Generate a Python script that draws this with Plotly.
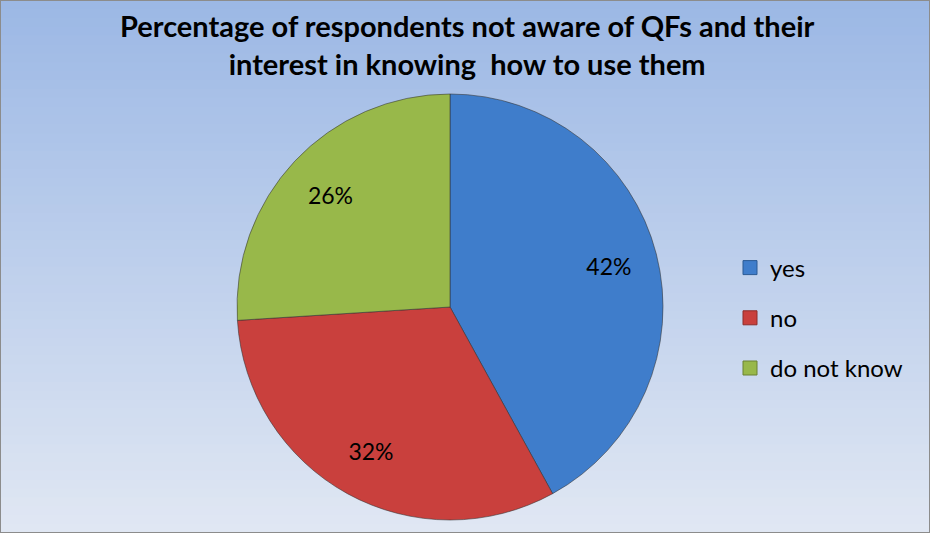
import plotly.graph_objects as go

categories = ["yes", "no", "do not know"]
values = [42, 32, 26]
colors = ["#3F7DCB", "#C9403D", "#98B84A"]
line_colors = ["#2B5A94", "#8E2C2A", "#6A8232"]
title_text = "Percentage of respondents not aware of QFs and their<br>interest in knowing  how to use them"

W, H = 930, 533
FONT = "Lato"
dom = dict(x=[(450 - 213) / W, (450 + 213) / W],
           y=[(H - 307 - 213) / H, (H - 307 + 213) / H])

fig = go.Figure()

# slices
fig.add_trace(go.Pie(
    labels=categories, values=values, sort=False, direction="clockwise", rotation=0,
    marker=dict(colors=colors, line=dict(color="rgba(50,50,50,0.55)", width=1)),
    textinfo="none", showlegend=False, hoverinfo="label+percent", domain=dom,
))
# percent labels (transparent ring so the text sits toward the rim)
fig.add_trace(go.Pie(
    labels=categories, values=values, sort=False, direction="clockwise", rotation=0,
    hole=0.54,
    marker=dict(colors=["rgba(0,0,0,0)"] * len(values), line=dict(width=0)),
    texttemplate="%{percent:.0%}", textposition="inside", insidetextorientation="horizontal",
    textfont=dict(family=FONT, size=23, color="black"),
    showlegend=False, hoverinfo="skip", domain=dom,
))

# legend entries
for c, col, lc in zip(categories, colors, line_colors):
    fig.add_trace(go.Scatter(
        x=[None], y=[None], mode="markers", name=c, legendgroup=c,
        marker=dict(symbol="square", size=14, color=col, line=dict(color=lc, width=1)),
    ))

# background gradient
top = (156, 184, 229)
bot = (224, 231, 243)
n = 60
shapes = []
for i in range(n):
    t = i / (n - 1)
    r = round(top[0] + (bot[0] - top[0]) * t)
    g = round(top[1] + (bot[1] - top[1]) * t)
    b = round(top[2] + (bot[2] - top[2]) * t)
    shapes.append(dict(type="rect", xref="paper", yref="paper",
                       x0=0, x1=1, y0=1 - (i + 1) / n - 0.002, y1=1 - i / n,
                       fillcolor=f"rgb({r},{g},{b})", line=dict(width=0), layer="below"))
shapes.append(dict(type="rect", xref="paper", yref="paper", x0=0, x1=1, y0=0, y1=1,
                   line=dict(color="#8C8C8C", width=2), fillcolor="rgba(0,0,0,0)", layer="above"))

fig.update_layout(
    width=W, height=H,
    margin=dict(l=0, r=0, t=0, b=0),
    paper_bgcolor="#C5D3EC",
    plot_bgcolor="rgba(0,0,0,0)",
    shapes=shapes,
    xaxis=dict(visible=False), yaxis=dict(visible=False),
    annotations=[dict(text="<b>" + title_text + "</b>", xref="paper", yref="paper",
                      x=467 / W, xanchor="center", y=1 - 6 / H, yanchor="top",
                      showarrow=False, align="center",
                      font=dict(family=FONT, size=29, color="black"))],
    legend=dict(x=730 / W, xanchor="left", y=1 - 318 / H, yanchor="middle",
                font=dict(family=FONT, size=24, color="black"),
                bgcolor="rgba(0,0,0,0)", tracegroupgap=16, itemclick=False),
)

fig.write_html("out.html", config={"displayModeBar": False},
               post_script="document.body.style.margin='0';")
